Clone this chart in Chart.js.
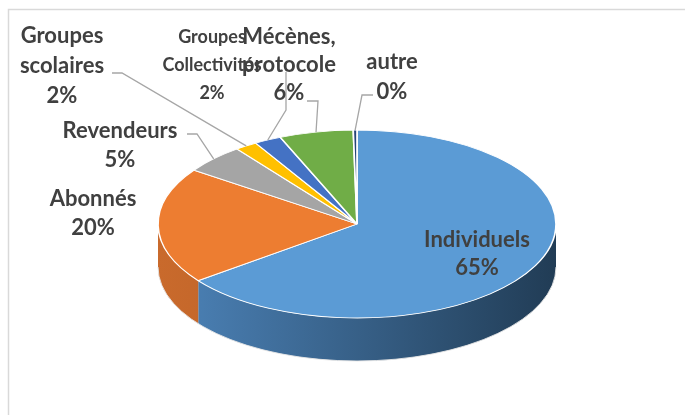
<!DOCTYPE html>
<html lang="fr">
<head>
  <meta charset="UTF-8">
  <title>Répartition des publics</title>
  <script src="https://cdn.jsdelivr.net/npm/chart.js"></script>
  <style>
    html, body { margin: 0; padding: 0; background: #fff; }
    #wrap { position: relative; width: 685px; height: 415px; }
  </style>
</head>
<body>
  <div id="wrap"><canvas id="chart"></canvas></div>

  <script>
    // données
    const categories = ['Individuels', 'Abonnés', 'Revendeurs', 'Groupes scolaires', 'Groupes Collectivités', 'Mécènes, protocole', 'autre'];
    const values = [64.7, 20.0, 5.0, 1.8, 2.2, 6.0, 0.3];

    // couleurs (dessus / côté gauche→droite)
    const colors = ['#5b9bd5', '#ed7d31', '#a5a5a5', '#ffc000', '#4472c4', '#70ad47', '#264478'];
    const sideColors = [
      ['#4d84ba', '#213c55'], ['#c96a2c', '#a4531f'], ['#8c8c8c', '#6a6a6a'], ['#d9a300', '#b38600'],
      ['#3a61a7', '#2c4a80'], ['#5f933c', '#4a732f'], ['#1f3966', '#1a2f55']
    ];

    // emplacement des étiquettes (centre du texte, lignes de rappel)
    const labelLayout = [
      { x: 477, y: [240, 268], size: 22 },
      { x: 93, y: [199, 228], size: 22 },
      { x: 120, y: [131, 160], size: 22, lead: [[187, 134], [197, 134]] },
      { x: 62, y: [36, 66, 96], size: 22, lead: [[112, 73], [122, 73]] },
      { x: 212, y: [37, 65, 93], size: 18, lead: [[286, 72], [286, 110]] },
      { x: 289, y: [37, 65, 93], size: 22, lead: [[307, 101], [318, 101]] },
      { x: 392, y: [62, 92], size: 22, lead: [[373, 95], [362, 95]] }
    ];

    const RX = 199, RY = 94, DEPTH = 43;

    const pie3d = {
      id: 'pie3d',
      beforeDraw(chart) {
        const ctx = chart.ctx;
        ctx.save();
        ctx.strokeStyle = '#d9d9d9';
        ctx.lineWidth = 1.5;
        ctx.strokeRect(8.5, 9.5, 720, 440);
        ctx.restore();
      },
      beforeDatasetsDraw(chart) {
        const ctx = chart.ctx;
        const arcs = chart.getDatasetMeta(0).data;
        const cx = arcs[0].x, cy = arcs[0].y, R = arcs[0].outerRadius;
        // côtés visibles (moitié avant)
        arcs.forEach((el, i) => {
          const a0 = Math.max(el.startAngle, 0), a1 = Math.min(el.endAngle, Math.PI);
          if (a1 <= a0) return;
          const g = ctx.createLinearGradient(cx - RX, 0, cx + RX, 0);
          g.addColorStop(0, sideColors[i][0]);
          g.addColorStop(1, sideColors[i][1]);
          ctx.beginPath();
          ctx.ellipse(cx, cy, RX, RY, 0, a0, a1);
          ctx.ellipse(cx, cy + DEPTH, RX, RY, 0, a1, a0, true);
          ctx.closePath();
          ctx.fillStyle = g;
          ctx.fill();
        });
        ctx.beginPath();
        ctx.ellipse(cx, cy + DEPTH, RX, RY, 0, 0, Math.PI);
        ctx.strokeStyle = 'rgba(230,230,230,0.9)';
        ctx.lineWidth = 1;
        ctx.stroke();
        // dessus aplati
        ctx.save();
        ctx.translate(cx, cy);
        ctx.scale(RX / R, RY / R);
        ctx.translate(-cx, -cy);
      },
      afterDatasetsDraw(chart) {
        const ctx = chart.ctx;
        ctx.restore();
        const arcs = chart.getDatasetMeta(0).data;
        const cx = arcs[0].x, cy = arcs[0].y;
        const total = values.reduce((a, b) => a + b, 0);
        ctx.save();
        arcs.forEach((el, i) => {
          const lay = labelLayout[i];
          if (lay.lead) {
            const m = (el.startAngle + el.endAngle) / 2;
            ctx.beginPath();
            ctx.moveTo(lay.lead[0][0], lay.lead[0][1]);
            lay.lead.slice(1).forEach(p => ctx.lineTo(p[0], p[1]));
            ctx.lineTo(cx + RX * Math.cos(m), cy + RY * Math.sin(m));
            ctx.strokeStyle = '#a6a6a6';
            ctx.lineWidth = 1.3;
            ctx.stroke();
          }
        });
        arcs.forEach((el, i) => {
          const lay = labelLayout[i];
          const lines = categories[i].split(' ').slice(0, lay.y.length - 1);
          if (lay.y.length === 2) lines[0] = categories[i];
          lines.push(Math.round(values[i] / total * 100) + '%');
          ctx.font = 'bold ' + lay.size + 'px Lato';
          ctx.fillStyle = '#404040';
          ctx.textAlign = 'center';
          ctx.textBaseline = 'middle';
          lines.forEach((t, k) => ctx.fillText(t, lay.x, lay.y[k]));
        });
        ctx.restore();
      }
    };

    new Chart(document.getElementById('chart'), {
      type: 'pie',
      data: {
        labels: categories,
        datasets: [{
          data: values,
          backgroundColor: colors,
          borderColor: '#ffffff',
          borderWidth: 1.5,
          clip: false
        }]
      },
      options: {
        responsive: true,
        maintainAspectRatio: false,
        animation: false,
        events: [],
        layout: { padding: { left: 177, right: 148, top: 44, bottom: 11 } },
        plugins: { legend: { display: false }, tooltip: { enabled: false } }
      },
      plugins: [pie3d]
    });
  </script>
</body>
</html>
